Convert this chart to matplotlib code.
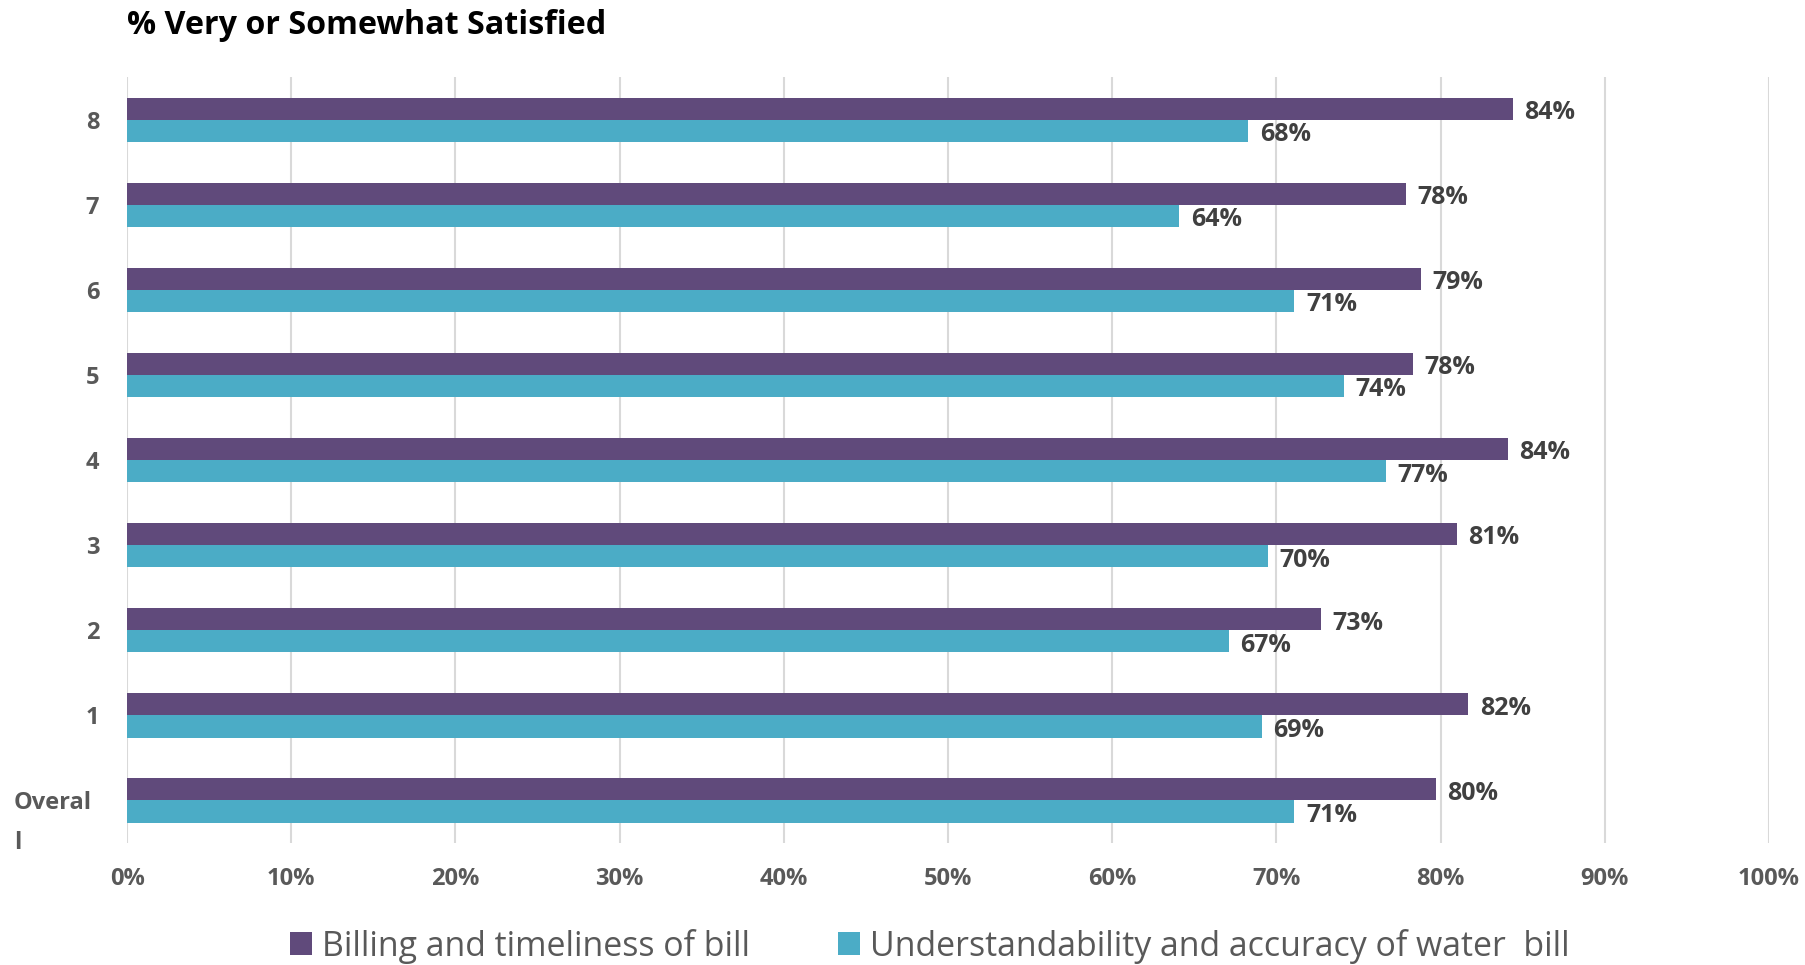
import numpy as np
import matplotlib.pyplot as plt
from matplotlib.transforms import blended_transform_factory

# grupos, de abajo hacia arriba
grupos = ["Overall", "1", "2", "3", "4", "5", "6", "7", "8"]
facturacion = [79.7, 81.7, 72.7, 81.0, 84.1, 78.3, 78.8, 77.9, 84.4]
comprension = [71.1, 69.1, 67.1, 69.5, 76.7, 74.1, 71.1, 64.1, 68.3]
series = ["Billing and timeliness of bill", "Understandability and accuracy of water  bill"]
colores = ["#604A7B", "#4BACC6"]
xticks = [0, 10, 20, 30, 40, 50, 60, 70, 80, 90, 100]

plt.rcParams["font.family"] = ["Open Sans", "DejaVu Sans"]

fig = plt.figure(figsize=(18.05, 9.65), dpi=100)
ax = fig.add_axes([0.0704, 0.1264, 0.9096, 0.7936])

y = np.arange(len(grupos))
alto = 0.26
b1 = ax.barh(y + alto / 2, facturacion, height=alto, color=colores[0], label=series[0], zorder=3)
b2 = ax.barh(y - alto / 2, comprension, height=alto, color=colores[1], label=series[1], zorder=3)

# etiquetas de valor al final de cada barra
for barras in (b1, b2):
    for b in barras:
        v = b.get_width()
        ax.text(v + 0.7, b.get_y() + b.get_height() / 2 - 0.045, f"{v:.0f}%",
                ha="left", va="center", fontsize=18, fontweight="bold", color="#404040")

ax.set_xlim(0, 100)
ax.set_ylim(-0.5, len(grupos) - 0.5)
ax.set_xticks(xticks)
ax.set_xticklabels([f"{t}%" for t in xticks])
ax.set_yticks(y)
ax.set_yticklabels([""] + grupos[1:])
ax.tick_params(axis="both", length=0, labelsize=17, labelcolor="#595959")
ax.tick_params(axis="x", pad=17)
ax.tick_params(axis="y", pad=20)
for lbl in ax.get_xticklabels() + ax.get_yticklabels():
    lbl.set_fontweight("bold")

# etiqueta partida de "Overall"
tr = blended_transform_factory(fig.transFigure, ax.transData)
ax.text(14 / 1805, -0.03, "Overal", transform=tr, ha="left", va="center",
        fontsize=17, fontweight="bold", color="#595959")
ax.text(14 / 1805, -0.5, "l", transform=tr, ha="left", va="center",
        fontsize=17, fontweight="bold", color="#595959")

ax.grid(axis="x", color="#D9D9D9", linewidth=1.5, zorder=0)
ax.grid(axis="y", visible=False)
for s in ax.spines.values():
    s.set_visible(False)

fig.text(127 / 1805, 1 - 25 / 965, "% Very or Somewhat Satisfied", ha="left", va="center",
         fontsize=23.2, fontweight="bold", color="black")

fig.legend(handles=[b1, b2], labels=series, loc="center", bbox_to_anchor=(0.515, 1 - 946 / 965),
           ncol=2, frameon=False, fontsize=24.4, handlelength=0.65, handleheight=0.65,
           handletextpad=0.3, columnspacing=2.6, labelcolor="#595959")

fig.savefig("out.png", dpi=100)
